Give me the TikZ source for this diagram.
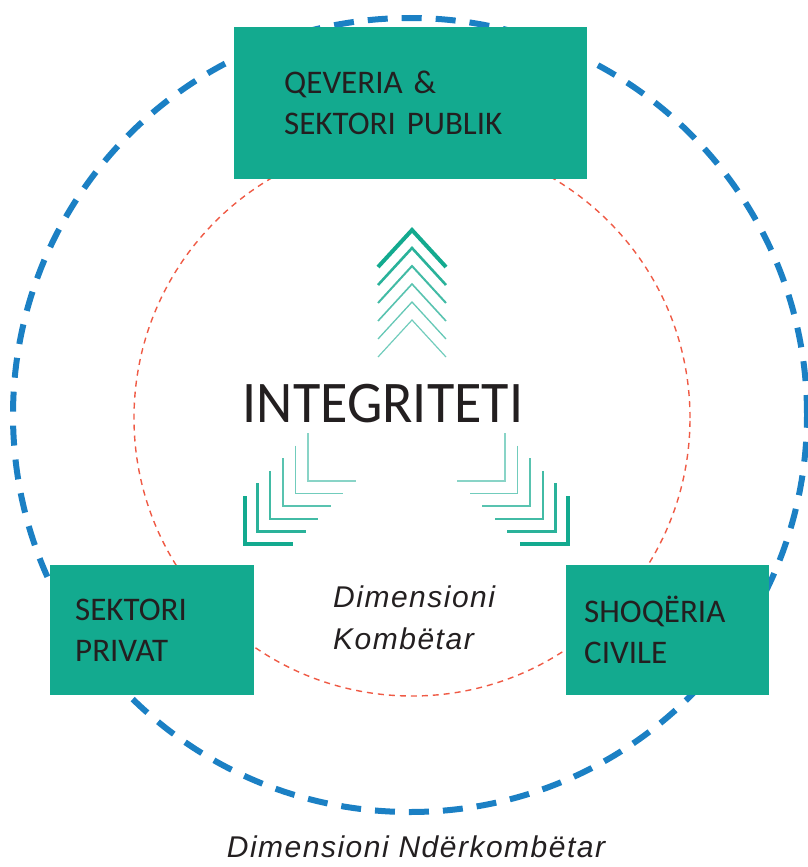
\documentclass[tikz,border=0pt]{standalone}
\usepackage{fontspec}
\setmainfont{Carlito}
\newfontfamily\italfont[LetterSpace=5]{Liberation Sans}
\newfontfamily\bigfont[FakeStretch=0.95]{Carlito}
\usepackage{tikz}
\definecolor{boxgreen}{HTML}{13AA8F}
\definecolor{ringblue}{HTML}{1B80C4}
\definecolor{ringred}{HTML}{EF5A45}
\definecolor{ink}{HTML}{231F20}

\begin{document}
\begin{tikzpicture}[x=1pt,y=-1pt]
  \tikzstyle{box}=[rectangle,fill=boxgreen,text=ink,align=left,anchor=north west,
        inner ysep=0pt,font=\fontsize{33}{41}\selectfont]
  \tikzstyle{dimlabel}=[text=ink,align=left,inner sep=0pt,
        font=\italfont\itshape\fontsize{30}{42}\selectfont]
  \tikzstyle{chev}=[draw=boxgreen,miter limit=10]
  \useasboundingbox (0,0) rectangle (807,867);
    \draw[ringblue,line width=6pt,dash pattern=on 20pt off 14pt] (410,415) circle (397pt);
    \draw[ringred,line width=1.4pt,dash pattern=on 6pt off 5pt] (412,418) circle (278pt);
    \node[box,minimum width=353pt,minimum height=152pt,inner xsep=50pt,text width=253pt] (gov) at (234,27) {QEVERIA \&\\SEKTORI PUBLIK};
    \node[box,minimum width=204pt,minimum height=130pt,inner xsep=25pt,text width=154pt] (priv) at (50,565) {SEKTORI\\PRIVAT};
    \node[box,minimum width=203pt,minimum height=130pt,inner xsep=18pt,text width=167pt] (civ) at (566,565) {SHOQËRIA\\CIVILE};
    \node[anchor=base,text=ink,inner sep=0pt,font=\bigfont\fontsize{59}{60}\selectfont] (integ) at (383,422) {INTEGRITETI};
    \node[dimlabel,anchor=west] (natdim) at (333,618) {Dimensioni\\Kombëtar};
    \node[dimlabel,anchor=base] (intdim) at (416,857) {Dimensioni Ndërkombëtar};
    \foreach \k/\w/\o in {0/4pt/1,1/2.6pt/.9,2/2pt/.8,3/1.6pt/.7,4/1.3pt/.65,5/1.2pt/.6}
      \draw[chev,line width=\w,draw opacity=\o] (378,{267+18*\k}) -- (412,{230+18*\k}) -- (446,{267+18*\k});
    \foreach \k/\w/\o in {0/4pt/1,1/2.4pt/.9,2/2pt/.8,3/1.8pt/.7,4/1.6pt/.6,5/1.6pt/.5}{
      \draw[chev,line width=\w,draw opacity=\o] ({245+12.6*\k},{496-12.6*\k}) -- ({245+12.6*\k},{544-12.6*\k}) -- ({293+12.6*\k},{544-12.6*\k});
      \draw[chev,line width=\w,draw opacity=\o] ({568-12.6*\k},{496-12.6*\k}) -- ({568-12.6*\k},{544-12.6*\k}) -- ({520-12.6*\k},{544-12.6*\k});
    }
\end{tikzpicture}
\end{document}
